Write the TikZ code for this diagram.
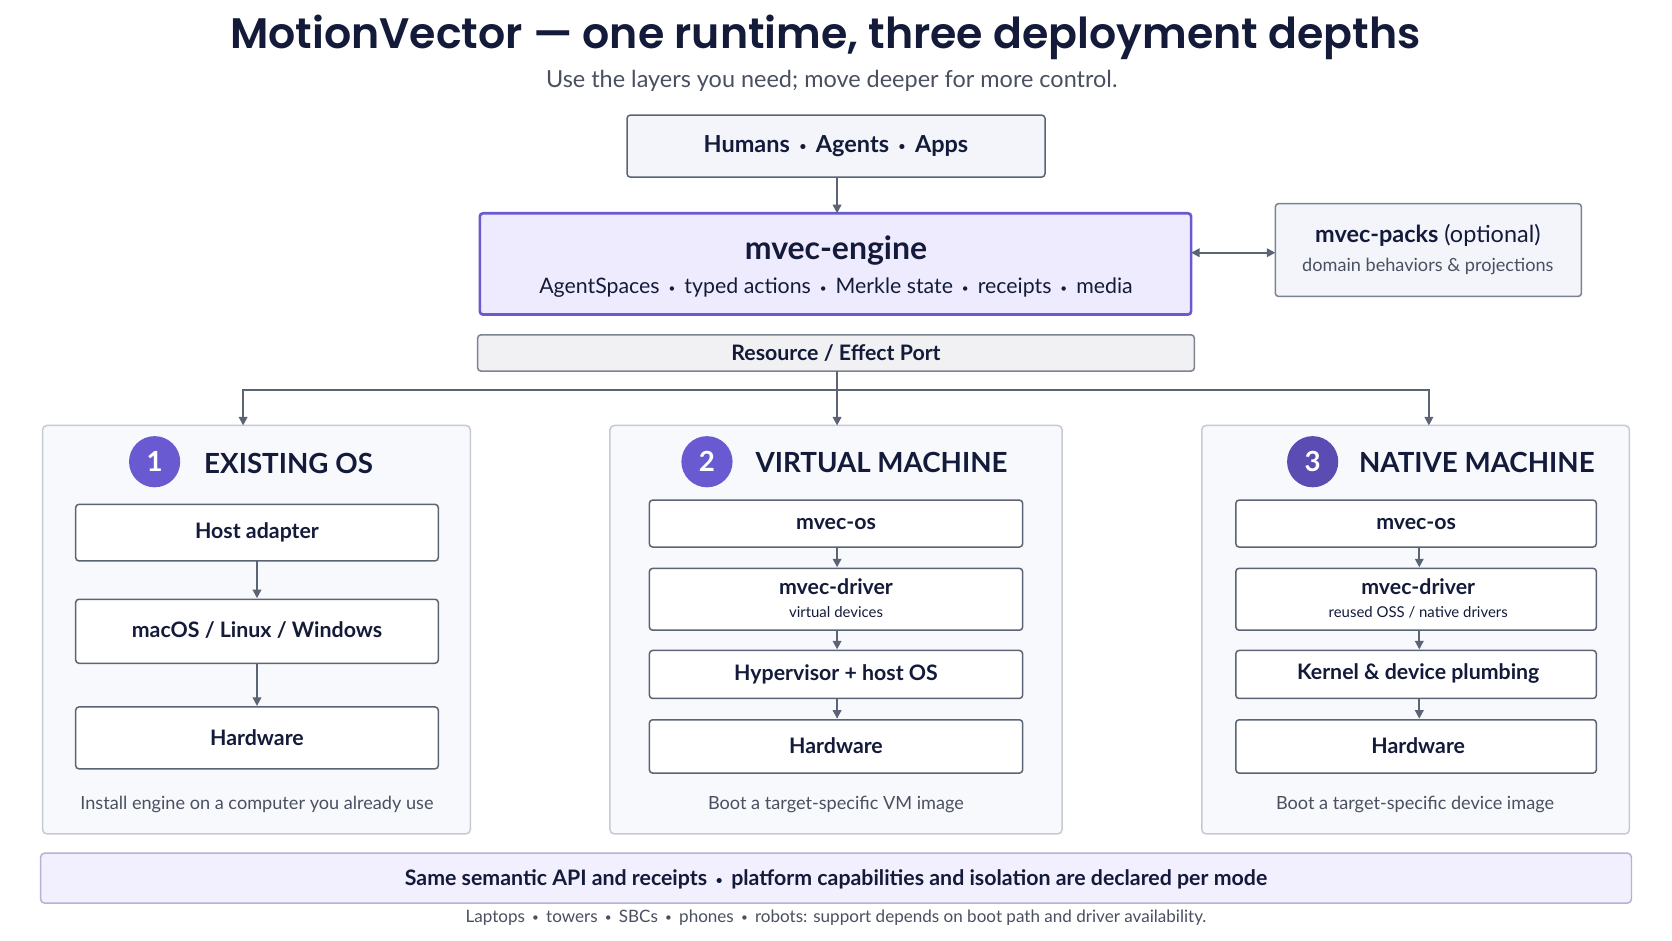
\documentclass[tikz,border=0pt]{standalone}
\usepackage{fontspec}
\setmainfont{Lato}
\newfontfamily\titlefont{Poppins}[UprightFont=* SemiBold]
\usetikzlibrary{arrows.meta}
\definecolor{ink}{HTML}{141B3A}
\definecolor{gr}{HTML}{4A5060}
\definecolor{ln}{HTML}{5A6474}
\definecolor{bd}{HTML}{C5CAD4}
\definecolor{pur}{HTML}{6A5AD2}
\definecolor{lav}{HTML}{EFEBFE}
\definecolor{pale}{HTML}{F3F5FB}
\newcommand{\bul}{\,{\fontsize{11}{11}\selectfont\raisebox{0.15em}{•}}\,}
\begin{document}
\begin{tikzpicture}[x=1pt,y=-1pt,
  box/.style={draw=ln,line width=1.4pt,rounded corners=3pt,fill=white},
  panel/.style={draw=bd,line width=1.4pt,rounded corners=4pt,fill=pale!60},
  arr/.style={draw=ln,line width=1.8pt,-{Triangle[length=8pt,width=8pt]}},
  t/.style={font=\fontsize{20}{24}\selectfont\bfseries,text=ink},
  circ/.style={circle,fill=pur,minimum size=48pt,inner sep=0pt,text=white,font=\fontsize{26}{30}\selectfont\bfseries},
  head/.style={anchor=west,text=ink,font=\fontsize{26}{30}\selectfont\bfseries},
  captxt/.style={text=gr,font=\fontsize{17}{20}\selectfont}]
\useasboundingbox[fill=white] (0,0) rectangle (1568,882);
\node[text=ink,font=\fontsize{40}{48}\selectfont\titlefont] (title) at (774,35) {MotionVector — one runtime, three deployment depths};
\node[text=gr,font=\fontsize{22}{26}\selectfont] (sub) at (780,76) {Use the layers you need; move deeper for more control.};
\draw[box,fill=pale] (588,108) rectangle (980,166);
\node[t,font=\fontsize{22}{26}\selectfont\bfseries] (hum) at (784,137) {Humans \bul{} Agents \bul{} Apps};
\coordinate (humB) at (785,166);
\draw[draw=pur,line width=2.5pt,rounded corners=3pt,fill=lav] (450,200) rectangle (1117,295);
\coordinate (engT) at (785,200); \coordinate (engR) at (1117,237); \coordinate (engB) at (785,295);
\node[text=ink,font=\fontsize{30}{34}\selectfont\bfseries] (eng) at (784,235) {mvec-engine};
\node[text=ink,font=\fontsize{20}{24}\selectfont] (engs) at (784,270) {AgentSpaces \bul{} typed actions \bul{} Merkle state \bul{} receipts \bul{} media};
\draw[box,fill=pale,draw=ln!80] (1196,191) rectangle (1483,278);
\coordinate (packL) at (1196,237);
\node[text=ink,font=\fontsize{22}{26}\selectfont] (pk) at (1339,221) {\textbf{mvec-packs} (optional)};
\node[text=gr,font=\fontsize{17}{20}\selectfont] (pks) at (1339,250) {domain behaviors \& projections};
\draw[arr,{Triangle[length=8pt,width=8pt]}-{Triangle[length=8pt,width=8pt]}] (engR) -- (packL);
\draw[arr] (humB) -- (engT);
\draw[box,fill=pale!70!gray!30,draw=ln!80] (448,314) rectangle (1120,348);
\node[t] (port) at (784,331) {Resource / Effect Port};
\coordinate (portB) at (785,348);
\coordinate (j) at (785,366);
\draw[draw=ln,line width=1.8pt] (228,398) -- (228,366) -- (1340,366) -- (1340,398);
\draw[draw=ln,line width=1.8pt] (portB) -- (j);
\coordinate (p1) at (228,399); \coordinate (p2) at (785,399); \coordinate (p3) at (1340,399);
% panels
\draw[panel] (40,399) rectangle (441,782);
\draw[panel] (572,399) rectangle (996,782);
\draw[panel] (1127,399) rectangle (1528,782);
\draw[arr] (228,366) -- (p1);
\draw[arr] (j) -- (p2);
\draw[arr] (1340,366) -- (p3);
\node[circ] (c1) at (145,433) {1}; \node[head] (h1) at (188,435) {EXISTING OS};
\node[circ] (c2) at (663,433) {2}; \node[head] (h2) at (705,434) {VIRTUAL MACHINE};
\node[circ,fill=pur!85!black] (c3) at (1231,433) {3}; \node[head] (h3) at (1271,434) {NATIVE MACHINE};
% panel 1
\draw[box] (71,473) rectangle (411,526); \node[t] (a1) at (241,499) {Host adapter};
\draw[box] (71,562) rectangle (411,622); \node[t] (a2) at (241,591) {macOS / Linux / Windows};
\draw[box] (71,663) rectangle (411,721); \node[t] (a3) at (241,692) {Hardware};
\draw[arr] (241,526) -- (241,561);
\draw[arr] (241,622) -- (241,662);
\node[captxt] (cp1) at (241,754) {Install engine on a computer you already use};
% panel 2
\draw[box] (609,469) rectangle (959,513); \node[t] (b1) at (784,491) {mvec-os};
\draw[box] (609,533) rectangle (959,591); \node[t] (b2) at (784,550) {mvec-driver};
\node[text=ink,font=\fontsize{14}{16}\selectfont] (b2s) at (784,574) {virtual devices};
\draw[box] (609,610) rectangle (959,655); \node[t] (b3) at (784,632) {Hypervisor + host OS};
\draw[box] (609,675) rectangle (959,725); \node[t] (b4) at (784,699) {Hardware};
\draw[arr] (785,513) -- (785,532);
\draw[arr] (785,591) -- (785,609);
\draw[arr] (785,655) -- (785,674);
\node[captxt] (cp2) at (784,754) {Boot a target-specific VM image};
% panel 3
\draw[box] (1159,469) rectangle (1497,513); \node[t] (d1) at (1328,491) {mvec-os};
\draw[box] (1159,533) rectangle (1497,591); \node[t] (d2) at (1330,550) {mvec-driver};
\node[text=ink,font=\fontsize{14}{16}\selectfont] (d2s) at (1330,574) {reused OSS / native drivers};
\draw[box] (1159,610) rectangle (1497,655); \node[t] (d3) at (1330,632) {Kernel \& device plumbing};
\draw[box] (1159,675) rectangle (1497,725); \node[t] (d4) at (1330,699) {Hardware};
\draw[arr] (1331,513) -- (1331,532);
\draw[arr] (1331,591) -- (1331,609);
\draw[arr] (1331,655) -- (1331,674);
\node[captxt] (cp3) at (1327,754) {Boot a target-specific device image};
% bottom
\draw[draw=bd!80!pur,line width=1.4pt,rounded corners=4pt,fill=lav!80] (38,800) rectangle (1530,847);
\node[t] (band) at (784,825) {Same semantic API and receipts \bul{} platform capabilities and isolation are declared per mode};
\node[text=gr,font=\fontsize{16}{19}\selectfont] (foot) at (784,861) {Laptops \bul{} towers \bul{} SBCs \bul{} phones \bul{} robots: support depends on boot path and driver availability.};
\end{tikzpicture}
\end{document}
